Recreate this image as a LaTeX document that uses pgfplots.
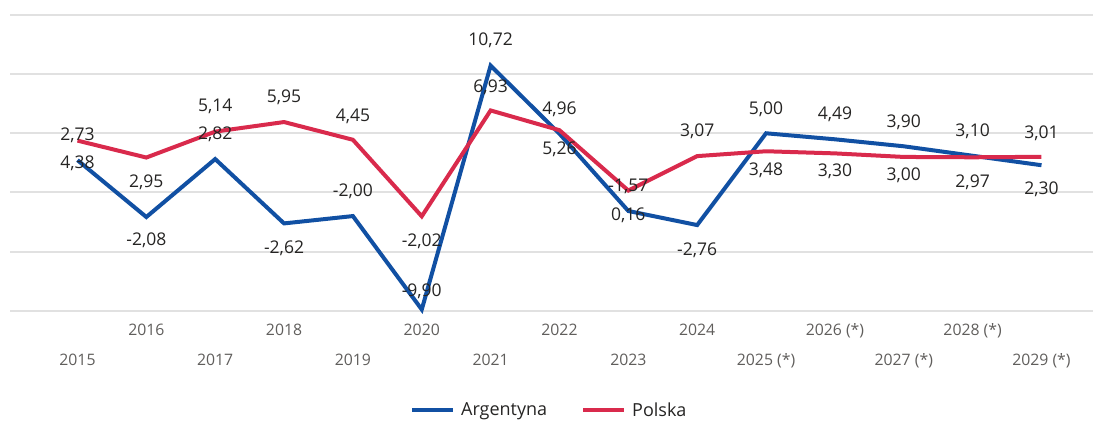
\documentclass[border=0pt]{standalone}
\usepackage{fontspec}
\setmainfont{Open Sans}
\usepackage{pgfplots}
\usepackage{pgfplotstable}
\pgfplotsset{compat=1.18}
\definecolor{argc}{HTML}{1150A3}
\definecolor{polc}{HTML}{D92A4C}
\definecolor{tickgray}{HTML}{605E5C}
\definecolor{lblcol}{HTML}{252423}
\definecolor{gridc}{HTML}{E1E1E1}
\pgfplotstableread{
x y lbl dy
0 2.73 2,73 19.2
1 -2.08 -2,08 -28.9
2 2.82 2,82 19.1
3 -2.62 -2,62 -30.5
4 -2.00 -2,00 19.2
5 -9.90 -9,90 13.3
6 10.72 10,72 20.2
7 4.96 4,96 19.5
8 -1.57 -1,57 19.6
9 -2.76 -2,76 -30.6
10 5.00 5,00 19.1
11 4.49 4,49 19.7
12 3.90 3,90 18.7
13 3.10 3,10 19.5
14 2.30 2,30 -29.5
}\argtab
\pgfplotstableread{
x y lbl dy
0 4.38 4,38 -28.3
1 2.95 2,95 -30.4
2 5.14 5,14 19.7
3 5.95 5,95 19.4
4 4.45 4,45 18.4
5 -2.02 -2,02 -30.6
6 6.93 6,93 17.8
7 5.26 5,26 -24.5
8 0.16 0,16 -30.4
9 3.07 3,07 19.9
10 3.48 3,48 -24.7
11 3.30 3,30 -22.8
12 3.00 3,00 -23.5
13 2.97 2,97 -30.6
14 3.01 3,01 18.4
}\poltab
\begin{document}
\begin{tikzpicture}[x=1pt,y=1pt]
\useasboundingbox (0,0) rectangle (1093,424);
\begin{axis}[
  at={(10pt,113.3pt)}, anchor=south west,
  scale only axis, width=1083pt, height=295.7pt,
  xmin=-0.98, xmax=14.748, ymin=-10, ymax=15,
  axis line style={draw=none},
  major tick length=0pt,
  ytick={-10,-5,0,5,10,15}, yticklabels={,,,,,},
  ymajorgrids, grid style={gridc, line width=2pt},
  xtick={0,...,14},
  xticklabels={\raisebox{-30pt}[0pt][0pt]{2015},2016,\raisebox{-30pt}[0pt][0pt]{2017},2018,\raisebox{-30pt}[0pt][0pt]{2019},2020,\raisebox{-30pt}[0pt][0pt]{2021},2022,\raisebox{-30pt}[0pt][0pt]{2023},2024,\raisebox{-30pt}[0pt][0pt]{2025 (*)},2026 (*),\raisebox{-30pt}[0pt][0pt]{2027 (*)},2028 (*),\raisebox{-30pt}[0pt][0pt]{2029 (*)}},
  xticklabel style={anchor=base, yshift=-25pt, font=\fontsize{15.8}{18}\selectfont, text=tickgray},
  clip=false,
  legend style={at={(0.498,-0.336)}, anchor=center, draw=none, fill=none,
    font=\fontsize{18}{21}\selectfont, text=lblcol,
    /tikz/every odd column/.append style={column sep=4pt},
    /tikz/every even column/.append style={column sep=32pt}},
  legend columns=2,
  legend image code/.code={\draw[#1, line width=4pt] (0pt,0pt) -- (41pt,0pt);},
  point meta=explicit symbolic,
  nodes near coords,
  visualization depends on={\thisrow{dy} \as \dy},
  every node near coord/.append style={anchor=base, yshift=\dy, font=\fontsize{17.5}{21}\selectfont, text=lblcol},
]
\addplot[argc, line width=4pt, no marks] table[x=x, y=y, meta=lbl] {\argtab};
\addlegendentry{Argentyna}
\addplot[polc, line width=4pt, no marks] table[x=x, y=y, meta=lbl] {\poltab};
\addlegendentry{Polska}
\end{axis}
\end{tikzpicture}
\end{document}
